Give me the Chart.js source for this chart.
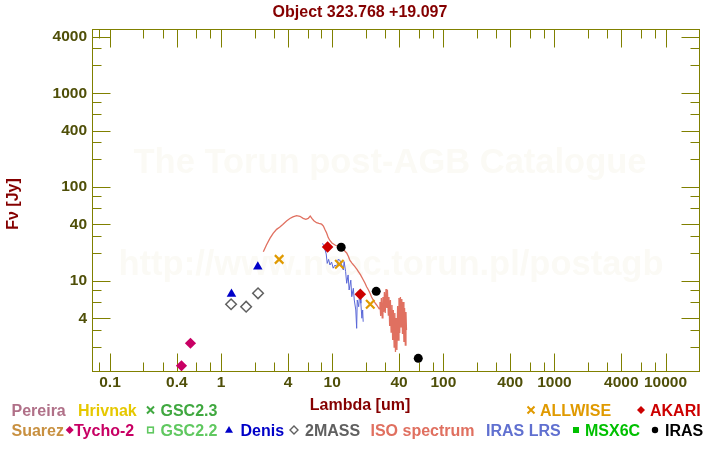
<!DOCTYPE html>
<html><head><meta charset="utf-8">
<script src="https://cdn.jsdelivr.net/npm/chart.js@4/dist/chart.umd.min.js"></script>
<style>html,body{margin:0;padding:0;background:#fff}canvas{display:block}</style>
</head><body>
<canvas id="c" width="720" height="450"></canvas>
<script>
// ---- texts ----
const titleText = "Object 323.768 +19.097";
const xTitle = "Lambda [um]";
const yTitle = "Fν [Jy]";
const watermark1 = "The Torun post-AGB Catalogue";
const watermark2 = "http://www.ncac.torun.pl/postagb";

// ---- tick values ----
const xTickLabels = [0.1, 0.4, 1, 4, 10, 40, 100, 400, 1000, 4000, 10000];
const xMinorTicks = [0.08, 0.2, 0.3, 0.6, 0.8, 2, 3, 6, 8, 20, 30, 60, 80, 200, 300, 600, 800, 2000, 3000, 6000, 8000];
const yTickLabels = [4, 10, 40, 100, 400, 1000, 4000];
const yMinorTicks = [2, 3, 6, 8, 20, 30, 60, 80, 200, 300, 600, 800, 2000, 3000];

// ---- photometry (lambda in um, flux in Jy) ----
const tychoLambda = [0.44, 0.53];
const tychoFlux = [1.25, 2.17];
const denisLambda = [1.24, 2.14];
const denisFlux = [7.27, 14.2];
const twomassLambda = [1.23, 1.68, 2.15];
const twomassFlux = [5.65, 5.32, 7.4];
const allwiseLambda = [3.33, 11.6, 22.0];
const allwiseFlux = [17.0, 15.1, 5.65];
const akariLambda = [9.09, 17.9];
const akariFlux = [23.0, 7.21];
const irasLambda = [12.05, 24.9, 59.5];
const irasFlux = [22.9, 7.76, 1.50];

// ---- ISO SWS spectrum ----
const isoLambda = [2.40, 2.56, 2.75, 2.94, 3.16, 3.38, 3.59, 3.88, 4.16, 4.43,
  4.78, 5.12, 5.48, 5.79, 6.08, 6.34, 6.56, 6.84, 7.23, 7.59,
  8.03, 8.33, 8.60, 8.91, 9.21, 9.53, 9.94, 10.6, 11.3, 12.2,
  12.7, 13.5, 14.0, 14.4, 15.0, 16.0, 16.7, 17.2, 18.0, 19.0,
  19.7, 20.4, 21.2, 21.9, 22.6, 23.4, 24.3, 25.1, 26.0, 26.5,
  26.9, 27.3, 27.7, 28.2, 28.6, 29.1, 29.5, 30.0, 30.5, 31.0,
  31.4, 32.0, 32.4, 32.9, 33.4, 33.9, 34.5, 35.0, 35.5, 36.1,
  36.6, 37.1, 37.6, 38.2, 38.8, 39.3, 39.9, 40.5, 41.1, 41.7,
  42.3, 42.9, 43.5, 44.2, 44.8, 45.5, 46.1, 46.6];
const isoFlux = [20.5, 24.2, 28.4, 32.2, 35.5, 37.6, 40.0, 43.6, 46.3, 48.1,
  49.6, 48.9, 46.5, 45.4, 46.5, 49.3, 46.4, 43.9, 41.8, 41.0,
  40.3, 38.5, 35.4, 32.5, 29.0, 27.0, 25.4, 24.2, 23.3, 22.5,
  21.4, 19.9, 18.2, 16.7, 15.6, 14.2, 13.3, 12.6, 11.6, 10.3,
  9.52, 8.69, 8.02, 7.39, 6.76, 6.28, 5.83, 5.55, 5.22, 5.04,
  5.97, 4.24, 6.59, 4.04, 6.75, 4.67, 7.63, 4.56, 8.22, 5.16,
  8.02, 4.34, 6.75, 3.32, 6.27, 2.86, 5.55, 2.35, 4.91, 1.98,
  4.56, 1.75, 4.04, 1.84, 5.42, 2.35, 6.59, 2.79, 6.75, 3.24,
  6.43, 2.72, 5.97, 2.24, 5.16, 2.08, 4.67, 3.01];

// ---- IRAS LRS spectrum ----
const lrsLambda = [8.19, 8.42, 8.59, 8.83, 9.02, 9.28, 9.54, 9.88, 10.2, 10.6,
  11.0, 11.3, 11.7, 12.2, 12.6, 12.8, 13.2, 13.5, 13.9, 14.2,
  14.7, 15.0, 15.5, 15.8, 16.3, 16.6, 16.8, 17.3, 17.8, 18.1,
  18.5, 18.8, 19.0];
const lrsFlux = [25.2, 23.6, 21.8, 19.4, 15.4, 17.0, 14.8, 15.9, 13.7, 14.8,
  14.1, 17.0, 16.7, 14.8, 13.1, 16.1, 12.6, 9.45, 11.6, 8.02,
  10.2, 6.80, 8.36, 6.27, 4.91, 3.13, 6.27, 5.32, 8.02, 5.79,
  4.01, 4.91, 3.68];

// ---- legend ----
const legendRow1 = ["Pereira", "Hrivnak", "GSC2.3", "ALLWISE", "AKARI"];
const legendRow2 = ["Suarez", "Tycho-2", "GSC2.2", "Denis", "2MASS", "ISO spectrum", "IRAS LRS", "MSX6C", "IRAS"];

const pts = (xs, ys) => xs.map((x, i) => ({x: x, y: ys[i]}));

const FONT = "'Liberation Sans', Arial, sans-serif";
const AXIS = "#808000";
const TICKTXT = "#4f4f08";
const DARKRED = "#850000";

function drawSym(ctx, sym, cx, cy, color) {
  ctx.save();
  ctx.fillStyle = color; ctx.strokeStyle = color;
  ctx.beginPath();
  if (sym === 'cross') {
    ctx.lineWidth = 2;
    ctx.moveTo(cx - 3.5, cy - 3.5); ctx.lineTo(cx + 3.5, cy + 3.5);
    ctx.moveTo(cx + 3.5, cy - 3.5); ctx.lineTo(cx - 3.5, cy + 3.5);
    ctx.stroke();
  } else if (sym === 'diamond' || sym === 'odiamond') {
    const r = 4;
    ctx.moveTo(cx, cy - r); ctx.lineTo(cx + r, cy); ctx.lineTo(cx, cy + r); ctx.lineTo(cx - r, cy); ctx.closePath();
    if (sym === 'diamond') ctx.fill(); else { ctx.lineWidth = 1.4; ctx.stroke(); }
  } else if (sym === 'osquare') {
    ctx.lineWidth = 1.6; ctx.strokeRect(cx - 2.8, cy - 2.8, 5.6, 5.6);
  } else if (sym === 'square') {
    ctx.fillRect(cx - 3, cy - 3, 6, 6);
  } else if (sym === 'triangle') {
    ctx.moveTo(cx, cy - 4); ctx.lineTo(cx + 4, cy + 2.8); ctx.lineTo(cx - 4, cy + 2.8); ctx.closePath(); ctx.fill();
  } else if (sym === 'circle') {
    ctx.arc(cx, cy, 3.2, 0, Math.PI * 2); ctx.fill();
  }
  ctx.restore();
}

const framePlugin = {
  id: 'frame',
  beforeDraw(chart) {
    const ctx = chart.ctx;
    ctx.save(); ctx.fillStyle = '#fff'; ctx.fillRect(0, 0, chart.width, chart.height); ctx.restore();
  },
  beforeDatasetsDraw(chart) {
    const ctx = chart.ctx, a = chart.chartArea, xs = chart.scales.x, ys = chart.scales.y;
    ctx.save();
    // watermark
    ctx.fillStyle = '#fbfaf5';
    ctx.font = "bold 34.5px " + FONT;
    ctx.textAlign = 'center'; ctx.textBaseline = 'alphabetic';
    ctx.fillText(watermark1, 390, 173);
    ctx.fillText(watermark2, 391, 275);
    // frame
    ctx.strokeStyle = AXIS; ctx.lineWidth = 1;
    const L = a.left + 0.5, R = a.right + 0.5, T = a.top + 0.5, B = a.bottom + 0.5;
    ctx.strokeRect(L, T, R - L, B - T);
    ctx.beginPath();
    const xt = (v, len) => { const p = Math.round(xs.getPixelForValue(v)) + 0.5;
      ctx.moveTo(p, B); ctx.lineTo(p, B - len); ctx.moveTo(p, T); ctx.lineTo(p, T + len); };
    const yt = (v, len) => { const p = Math.round(ys.getPixelForValue(v)) + 0.5;
      ctx.moveTo(L, p); ctx.lineTo(L + len, p); ctx.moveTo(R, p); ctx.lineTo(R - len, p); };
    xTickLabels.forEach(v => xt(v, 18));
    xMinorTicks.forEach(v => xt(v, 9));
    yTickLabels.forEach(v => yt(v, 18));
    yMinorTicks.forEach(v => yt(v, 9));
    ctx.stroke();
    ctx.restore();
  },
  afterDraw(chart) {
    const ctx = chart.ctx;
    ctx.save();
    ctx.textBaseline = 'alphabetic';
    // title
    ctx.fillStyle = DARKRED;
    ctx.font = "bold 16px " + FONT;
    ctx.textAlign = 'center';
    ctx.fillText(titleText, 360, 17);
    // x title
    ctx.fillText(xTitle, 360, 410);
    // y title
    ctx.save();
    ctx.translate(17.5, 204);
    ctx.rotate(-Math.PI / 2);
    ctx.fillText(yTitle, 0, 0);
    ctx.restore();
    // legend
    ctx.textAlign = 'left';
    const r1 = 415.5, r2 = 435.5;
    const item = (label, color, x, y, sym, cx) => {
      if (sym) drawSym(ctx, sym, cx, y - 5.5, color);
      ctx.fillStyle = color; ctx.fillText(label, x, y);
    };
    item(legendRow1[0], '#b07088', 11.5, r1);
    item(legendRow1[1], '#e6c800', 78, r1);
    item(legendRow1[2], '#40a840', 160.5, r1, 'cross', 150.5);
    item(legendRow1[3], '#e09a00', 540, r1, 'cross', 531);
    item(legendRow1[4], '#cc0000', 650, r1, 'diamond', 641);
    item(legendRow2[0], '#c89040', 11.5, r2);
    item(legendRow2[1], '#c80064', 74, r2, 'diamond', 69.7);
    item(legendRow2[2], '#60c860', 160.5, r2, 'osquare', 150.5);
    item(legendRow2[3], '#0000c8', 240.5, r2, 'triangle', 229);
    item(legendRow2[4], '#606060', 305, r2, 'odiamond', 294);
    item(legendRow2[5], '#e07060', 370.5, r2);
    item(legendRow2[6], '#6070d0', 486, r2);
    item(legendRow2[7], '#00c000', 585, r2, 'square', 576);
    item(legendRow2[8], '#000000', 665, r2, 'circle', 655);
    ctx.restore();
  }
};

new Chart(document.getElementById('c'), {
  type: 'scatter',
  data: {
    datasets: [
      { label: 'IRAS', data: pts(irasLambda, irasFlux), pointStyle: 'circle', pointRadius: 4.5,
        backgroundColor: '#000', borderColor: '#000', borderWidth: 0 },
      { label: 'AKARI', data: pts(akariLambda, akariFlux), pointStyle: 'rectRot', pointRadius: 5.8,
        backgroundColor: '#cc0000', borderColor: '#cc0000', borderWidth: 0 },
      { label: 'ALLWISE', data: pts(allwiseLambda, allwiseFlux), pointStyle: 'crossRot', pointRadius: 6,
        backgroundColor: '#e09a00', borderColor: '#e09a00', borderWidth: 2.2 },
      { label: '2MASS', data: pts(twomassLambda, twomassFlux), pointStyle: 'rectRot', pointRadius: 5.3,
        backgroundColor: 'rgba(255,255,255,0)', borderColor: '#606060', borderWidth: 1.5 },
      { label: 'Denis', data: pts(denisLambda, denisFlux), pointStyle: 'triangle', pointRadius: 5.5,
        backgroundColor: '#0000c8', borderColor: '#0000c8', borderWidth: 0 },
      { label: 'Tycho-2', data: pts(tychoLambda, tychoFlux), pointStyle: 'rectRot', pointRadius: 5.6,
        backgroundColor: '#c80064', borderColor: '#c80064', borderWidth: 0 },
      { label: 'IRAS LRS', data: pts(lrsLambda, lrsFlux), showLine: true, pointRadius: 0,
        borderColor: '#5a68d8', borderWidth: 1, tension: 0 },
      { label: 'ISO spectrum', data: pts(isoLambda, isoFlux), showLine: true, pointRadius: 0,
        borderColor: '#e07060', borderWidth: 1.3, tension: 0 }
    ]
  },
  options: {
    responsive: false,
    animation: false,
    devicePixelRatio: 1,
    layout: { padding: { left: 0, right: 21, top: 29, bottom: 0 } },
    plugins: { legend: { display: false }, tooltip: { enabled: false }, title: { display: false } },
    scales: {
      x: {
        type: 'logarithmic', position: 'bottom', min: 0.0689, max: 20000,
        grid: { display: false, drawTicks: false }, border: { display: false },
        afterBuildTicks: s => { s.ticks = xTickLabels.map(v => ({ value: v })); },
        afterFit: s => { s.height = 79; },
        ticks: { autoSkip: false, maxRotation: 0, padding: 2, color: TICKTXT,
          font: { family: FONT, size: 15.5, weight: 'bold' }, callback: v => String(v) }
      },
      y: {
        type: 'logarithmic', position: 'left', min: 1.099, max: 4840,
        grid: { display: false, drawTicks: false }, border: { display: false },
        afterBuildTicks: s => { s.ticks = yTickLabels.map(v => ({ value: v })); },
        afterFit: s => { s.width = 92; },
        ticks: { autoSkip: false, padding: 5, color: TICKTXT,
          font: { family: FONT, size: 15.5, weight: 'bold' }, callback: v => String(v) }
      }
    }
  },
  plugins: [framePlugin]
});
</script>
</body></html>
